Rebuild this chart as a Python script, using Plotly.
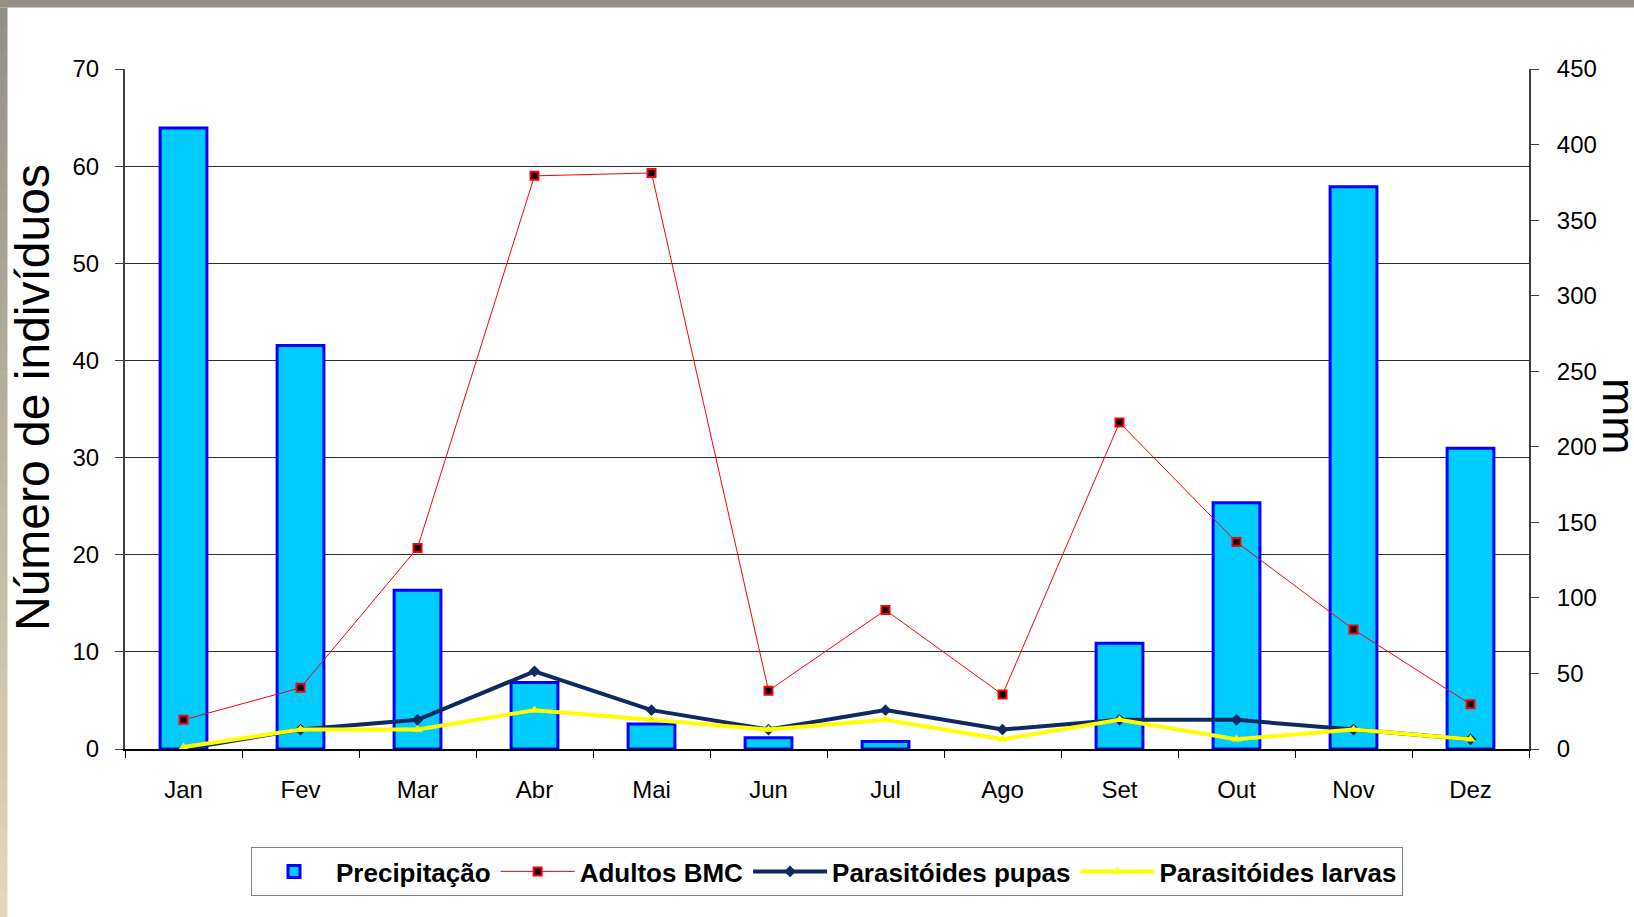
import plotly.graph_objects as go

# ---------------- data ----------------
months = ["Jan", "Fev", "Mar", "Abr", "Mai", "Jun", "Jul", "Ago", "Set", "Out", "Nov", "Dez"]
precipitacao_mm = [411, 267, 105, 44, 16.5, 7.4, 5, 0, 70, 163, 372, 199]
adultos_bmc = [3.0, 6.3, 20.7, 59.0, 59.3, 6.0, 14.3, 5.6, 33.6, 21.3, 12.3, 4.6]
parasitoides_pupas = [0, 2, 3, 8, 4, 2, 4, 2, 3, 3, 2, 1]
parasitoides_larvas = [0.2, 2, 2, 4, 3, 2, 3, 1, 3, 1, 2, 1]

left_ticks = [0, 10, 20, 30, 40, 50, 60, 70]
right_ticks = [0, 50, 100, 150, 200, 250, 300, 350, 400, 450]

FONT = "Liberation Sans, Arial, sans-serif"
W, H = 1634, 917
L, R, T, B = 125, 105, 69, 168
PW, PH = W - L - R, H - T - B


def px2paper_x(px):
    return (px - L) / PW


def px2paper_y(py):
    return (H - B - py) / PH


fig = go.Figure()

# zero-height bars get no outline (nothing is drawn for them in the reference)
bar_outline = [3 if v > 0 else 0 for v in precipitacao_mm]

fig.add_trace(go.Bar(
    x=months, y=precipitacao_mm, name="Precipitação",
    marker=dict(color="#00ccff", line=dict(color="#0000ff", width=bar_outline)),
    width=0.4, yaxis="y",
))
fig.add_trace(go.Scatter(
    x=months, y=adultos_bmc, name="Adultos BMC", mode="lines+markers",
    line=dict(color="#ff0000", width=1),
    marker=dict(symbol="square", size=8, color="#000000",
                line=dict(color="#ff0000", width=2)),
    yaxis="y2",
))
fig.add_trace(go.Scatter(
    x=months, y=parasitoides_pupas, name="Parasitóides pupas", mode="lines+markers",
    line=dict(color="#0f2a60", width=4),
    marker=dict(symbol="diamond", size=9, color="#0f2a60"),
    yaxis="y2",
))
fig.add_trace(go.Scatter(
    x=months, y=parasitoides_larvas, name="Parasitóides larvas", mode="lines+markers",
    line=dict(color="#ffff00", width=4),
    marker=dict(symbol="triangle-up", size=9, color="#ffff00"),
    yaxis="y2",
))

# decorative slide frame: grey top band and grey-to-beige left band
shapes = [dict(type="rect", xref="paper", yref="paper",
               x0=px2paper_x(0), x1=px2paper_x(W), y0=px2paper_y(7.5), y1=px2paper_y(0),
               fillcolor="#958f87", line=dict(width=0), layer="below")]
c0 = (0x93, 0x90, 0x88)
c1 = (0xe2, 0xd8, 0xb8)
n = 40
for i in range(n):
    t = i / (n - 1)
    col = "rgb(%d,%d,%d)" % tuple(round(a + (b - a) * t) for a, b in zip(c0, c1))
    ya = 7.5 + (H - 7.5) * i / n
    yb = 7.5 + (H - 7.5) * (i + 1) / n
    shapes.append(dict(type="rect", xref="paper", yref="paper",
                       x0=px2paper_x(0), x1=px2paper_x(7.5),
                       y0=px2paper_y(yb + 0.5), y1=px2paper_y(ya),
                       fillcolor=col, line=dict(width=0), layer="below"))

annotations = [
    dict(text="Número de indivíduos", xref="paper", yref="paper",
         x=px2paper_x(33), y=px2paper_y(398), textangle=-90, showarrow=False,
         xanchor="center", yanchor="middle",
         font=dict(family=FONT, size=48, color="#000000")),
    dict(text="mm", xref="paper", yref="paper",
         x=px2paper_x(1619), y=px2paper_y(416), textangle=90, showarrow=False,
         xanchor="center", yanchor="middle",
         font=dict(family=FONT, size=46, color="#000000")),
]

fig.update_layout(
    width=W, height=H,
    margin=dict(l=L, r=R, t=T, b=B, pad=0),
    paper_bgcolor="#ffffff", plot_bgcolor="#ffffff",
    font=dict(family=FONT, size=24, color="#000000"),
    shapes=shapes,
    annotations=annotations,
    showlegend=True,
    legend=dict(
        orientation="h", x=0.5, xanchor="center",
        y=px2paper_y(847), yanchor="top",
        bordercolor="#808080", borderwidth=1, bgcolor="#ffffff",
        font=dict(family=FONT, size=26, color="#000000", weight="bold"),
        itemwidth=74, traceorder="normal",
    ),
    xaxis=dict(
        type="category", range=[-0.5, 11.5], tickson="boundaries",
        ticks="outside", ticklen=7, tickwidth=1, tickcolor="#000000",
        showline=True, linecolor="#000000", linewidth=2,
        showgrid=False, zeroline=False,
        tickfont=dict(family=FONT, size=24), ticklabelstandoff=18,
    ),
    yaxis=dict(
        side="right", range=[0, 450], tickvals=right_ticks,
        ticks="outside", ticklen=8, tickwidth=1, tickcolor="#404040",
        showline=True, linecolor="#404040", linewidth=2,
        showgrid=False, zeroline=False,
        tickfont=dict(family=FONT, size=24), ticklabelstandoff=13,
    ),
    yaxis2=dict(
        overlaying="y", side="left", anchor="x", range=[0, 70], tickvals=left_ticks,
        ticks="outside", ticklen=8, tickwidth=1, tickcolor="#404040",
        showline=True, linecolor="#404040", linewidth=2,
        showgrid=True, gridcolor="#303030", gridwidth=1, zeroline=False,
        tickfont=dict(family=FONT, size=24), ticklabelstandoff=11,
    ),
)

fig.write_html(
    "out.html",
    config={"displayModeBar": False},
    post_script="document.body.style.margin='0';document.body.style.overflow='hidden';",
)
